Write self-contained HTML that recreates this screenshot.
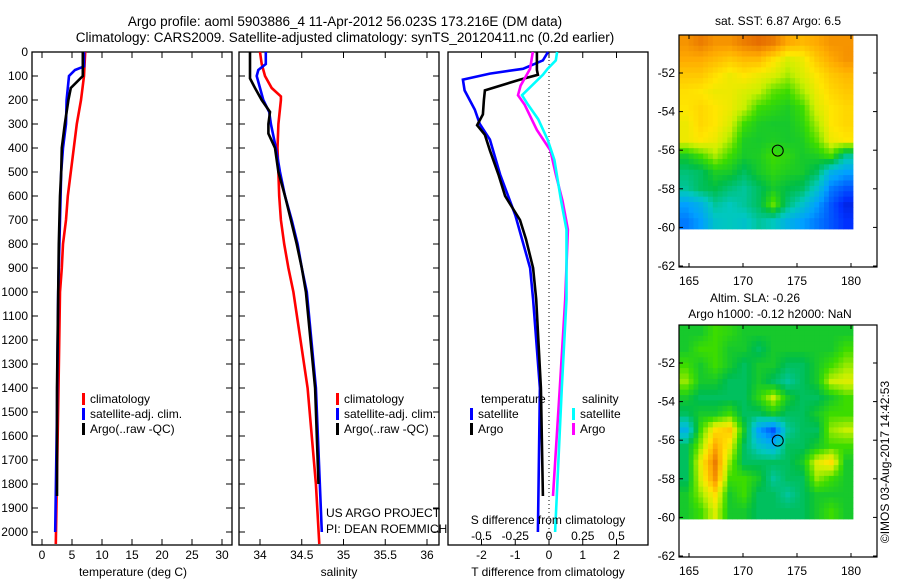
<!DOCTYPE html>
<html><head><meta charset="utf-8"><style>
body{margin:0;background:#fff;}
svg{display:block;font-family:"Liberation Sans",sans-serif;}
</style></head><body>
<svg id="c" width="900" height="580" viewBox="0 0 900 580">
<text x="345" y="26" font-size="13.5" text-anchor="middle">Argo profile: aoml 5903886_4 11-Apr-2012 56.023S 173.216E (DM data)</text>
<text x="345" y="42" font-size="13.5" text-anchor="middle">Climatology: CARS2009. Satellite-adjusted climatology: synTS_20120411.nc (0.2d earlier)</text>
</svg>
<script>
// ---------- DATA ----------
const tempClimDepth=[0,100,200,300,400,500,600,700,800,900,1000,1400,2050];
const tempClim=[7.2,7.0,6.5,5.8,5.3,4.8,4.3,4.0,3.5,3.3,3.0,2.75,2.3];
const tempSatDepth=[0,60,75,100,200,300,400,500,700,1000,1500,2000];
const tempSat=[7.0,7.0,5.5,4.5,4.1,4.0,3.5,3.2,3.0,2.7,2.5,2.2];
const tempArgoDepth=[0,100,150,200,300,400,500,600,700,800,1000,1400,1850];
const tempArgo=[6.8,6.8,4.8,4.4,3.8,3.3,3.2,3.0,2.9,2.8,2.7,2.5,2.5];

const salClimDepth=[0,50,100,150,185,200,300,400,500,600,700,800,900,1000,1400,1800,2050];
const salClim=[34.0,34.02,34.06,34.14,34.25,34.25,34.22,34.21,34.22,34.23,34.25,34.29,34.34,34.4,34.57,34.67,34.71];
const salSatDepth=[0,50,75,100,150,200,250,300,400,500,600,700,800,900,1000,1400,2000];
const salSat=[34.07,34.07,33.98,33.96,34.0,34.04,34.11,34.13,34.19,34.24,34.3,34.38,34.45,34.5,34.56,34.67,34.74];
const salArgoDepth=[0,110,150,200,250,300,340,400,500,600,700,800,900,1000,1400,1800];
const salArgo=[33.88,33.88,33.94,34.02,34.12,34.1,34.1,34.18,34.22,34.3,34.37,34.44,34.5,34.55,34.66,34.7];

const tdSatDepth=[0,35,70,90,115,160,240,300,365,510,680,780,900,1030,1400,1700,2000];
const tdSat=[-0.03,-0.18,-0.77,-1.75,-2.55,-2.5,-2.2,-2.05,-1.75,-1.45,-1.0,-0.8,-0.56,-0.47,-0.27,-0.3,-0.33];
const tdArgoDepth=[0,75,95,115,160,200,260,305,345,410,510,600,700,780,900,1030,1400,1850];
const tdArgo=[-0.36,-0.36,-0.33,-0.86,-1.9,-1.93,-1.96,-2.13,-1.9,-1.75,-1.5,-1.3,-0.86,-0.68,-0.47,-0.38,-0.24,-0.18];
const sdArgoDepth=[0,70,140,180,220,325,410,510,620,740,1030,1400,1850];
const sdArgo=[-0.12,-0.14,-0.21,-0.23,-0.18,-0.09,0.01,0.05,0.10,0.14,0.12,0.08,0.03];
const sdSatDepth=[0,35,70,95,180,220,280,365,450,620,740,1030,1400,2000];
const sdSat=[0.06,0.05,-0.01,-0.045,-0.2,-0.155,-0.08,-0.01,0.04,0.09,0.13,0.13,0.095,0.045];

const depthTicks=[0,100,200,300,400,500,600,700,800,900,1000,1100,1200,1300,1400,1500,1600,1700,1800,1900,2000];
const tempTicks=[0,5,10,15,20,25,30];
const salTicks=[34,34.5,35,35.5,36];
const tdTicks=[-2,-1,0,1,2];
const sdTickLabels=["-0.5","-0.25","0","0.25","0.5"];
const sdTicks=[-0.5,-0.25,0,0.25,0.5];
const lonTicks=[165,170,175,180];
const latTicks=[-52,-54,-56,-58,-60,-62];

const sstGrid=[
[.85,.88,.85,.85,.88,.9,.88,.82,.8,.82,.85,.85],
[.82,.82,.8,.78,.8,.8,.75,.7,.72,.78,.82,.85],
[.78,.78,.75,.72,.74,.72,.7,.66,.7,.74,.78,.8],
[.75,.74,.72,.72,.7,.68,.62,.6,.66,.72,.76,.78],
[.74,.76,.74,.72,.68,.6,.58,.56,.6,.7,.74,.76],
[.72,.76,.74,.7,.6,.56,.55,.55,.58,.66,.74,.76],
[.72,.74,.72,.66,.56,.55,.56,.55,.56,.62,.72,.74],
[.55,.6,.66,.6,.55,.56,.6,.58,.55,.56,.6,.45],
[.48,.5,.56,.55,.5,.55,.58,.56,.55,.5,.35,.3],
[.45,.5,.52,.48,.45,.5,.55,.52,.5,.4,.25,.2],
[.3,.35,.45,.42,.45,.5,.62,.48,.4,.3,.2,.12],
[.25,.3,.4,.42,.4,.45,.42,.35,.3,.25,.2,.15]];
const slaGrid=[
[.55,.55,.6,.58,.55,.55,.55,.55,.55,.55,.55,.55],
[.55,.6,.6,.55,.55,.5,.55,.55,.55,.55,.55,.6],
[.6,.55,.6,.55,.5,.55,.55,.5,.5,.55,.6,.65],
[.65,.55,.55,.5,.5,.55,.5,.45,.5,.55,.68,.7],
[.55,.5,.5,.5,.5,.58,.68,.55,.5,.5,.55,.6],
[.5,.55,.55,.6,.5,.5,.55,.5,.5,.55,.6,.6],
[.35,.6,.75,.78,.55,.3,.2,.45,.5,.5,.65,.68],
[.5,.65,.82,.72,.5,.4,.35,.5,.5,.55,.6,.6],
[.5,.72,.88,.65,.5,.5,.5,.5,.55,.7,.75,.55],
[.5,.7,.85,.6,.6,.55,.45,.5,.5,.65,.6,.55],
[.55,.65,.75,.55,.6,.5,.5,.45,.5,.55,.55,.55],
[.55,.6,.7,.55,.55,.5,.5,.5,.5,.55,.6,.55]];
const argoLon=173.216, argoLat=-56.023;

// ---------- HELPERS ----------
const svg=document.getElementById('c');
const NS='http://www.w3.org/2000/svg';
function mk(tag,attrs,parent){const e=document.createElementNS(NS,tag);for(const k in attrs)e.setAttribute(k,attrs[k]);(parent||svg).appendChild(e);return e;}
function txt(x,y,s,size,anchor,parent){const t=mk('text',{x:x,y:y,'font-size':size,'text-anchor':anchor||'middle'},parent);t.textContent=s;return t;}
const TOP=52,BOT=545;
const yD=d=>TOP+d*0.24;
const xT=v=>42+v*6;
const xS=v=>260+(v-34)*83.5;
const xTD=v=>549+v*33.75;
const xSD=v=>549+v*4*33.75;

function panel(x0,x1,name){
  const g=mk('g',{});
  
  
  mk('rect',{x:x0,y:TOP,width:x1-x0,height:BOT-TOP,fill:'none',stroke:'#000','stroke-width':1.3},g);
  return g;
}
function line(g,ds,vs,fx,color,name){
  const p=mk('polyline',{points:ds.map((d,i)=>fx(vs[i]).toFixed(1)+','+yD(d).toFixed(1)).join(' '),fill:'none',stroke:color,'stroke-width':2.6,'stroke-linejoin':'miter'},g);
  
  
}
function xticks(g,ticks,fx,labels,ly){
  ticks.forEach((t,i)=>{const x=fx(t);
    mk('line',{x1:x,y1:TOP,x2:x,y2:TOP+6,stroke:'#000'},g);
    mk('line',{x1:x,y1:BOT,x2:x,y2:BOT-6,stroke:'#000'},g);
    if(labels){const l=txt(x,ly,labels[i],12,'middle',g);
      
      }
  });
}
function yticks(g,x0,x1){
  depthTicks.forEach(d=>{const y=yD(d);
    mk('line',{x1:x0,y1:y,x2:x0+6,y2:y,stroke:'#000'},g);
    mk('line',{x1:x1,y1:y,x2:x1-6,y2:y,stroke:'#000'},g);});
}
function legend(g,x,y,items){
  items.forEach((it,i)=>{
    mk('rect',{x:x,y:y+i*15-10,width:3,height:12,fill:it[0]},g);
    const t=txt(x+8,y+i*15,it[1],12,'start',g);
    
    
  });
}

// ---------- PANEL 1 ----------
const p1=panel(32,232,'temperature-panel');
yticks(p1,32,232);
depthTicks.forEach(d=>{const t=txt(28,yD(d)+4,String(d),12,'end',p1);
  
  });
xticks(p1,tempTicks,xT,tempTicks.map(String),559);
line(p1,tempClimDepth,tempClim,xT,'#f00','temp-climatology-line');
line(p1,tempSatDepth,tempSat,xT,'#00f','temp-satellite-line');
line(p1,tempArgoDepth,tempArgo,xT,'#000','temp-argo-line');
legend(p1,82,403,[['#f00','climatology'],['#00f','satellite-adj. clim.'],['#000','Argo(..raw -QC)']]);
txt(133,576,'temperature (deg C)',12,'middle',p1);

// ---------- PANEL 2 ----------
const p2=panel(239,439,'salinity-panel');
yticks(p2,239,439);
xticks(p2,salTicks,xS,['34','34.5','35','35.5','36'],559);
line(p2,salClimDepth,salClim,xS,'#f00','sal-climatology-line');
line(p2,salSatDepth,salSat,xS,'#00f','sal-satellite-line');
line(p2,salArgoDepth,salArgo,xS,'#000','sal-argo-line');
legend(p2,336,403,[['#f00','climatology'],['#00f','satellite-adj. clim.'],['#000','Argo(..raw -QC)']]);
txt(326,517,'US ARGO PROJECT',12,'start',p2);
txt(326,533,'PI: DEAN ROEMMICH',12,'start',p2);
txt(339,576,'salinity',12,'middle',p2);

// ---------- PANEL 3 ----------
const p3=panel(448,648,'difference-panel');
xticks(p3,tdTicks,xTD,['-2','-1','0','1','2'],559);
mk('line',{x1:549,y1:TOP,x2:549,y2:BOT,stroke:'#000','stroke-dasharray':'1,3'},p3);
line(p3,tdSatDepth,tdSat,xTD,'#00f','tdiff-satellite-line');
line(p3,tdArgoDepth,tdArgo,xTD,'#000','tdiff-argo-line');
line(p3,sdArgoDepth,sdArgo,xSD,'#f0f','sdiff-argo-line');
line(p3,sdSatDepth,sdSat,xSD,'#0ff','sdiff-satellite-line');
txt(481,403,'temperature',12,'start',p3);
txt(582,403,'salinity',12,'start',p3);
legend(p3,470,418,[['#00f','satellite'],['#000','Argo']]);
legend(p3,572,418,[['#0ff','satellite'],['#f0f','Argo']]);
txt(548,524,'S difference from climatology',12,'middle',p3);
sdTicks.forEach((s,i)=>{const t=txt(xSD(s),540,sdTickLabels[i],12,'middle',p3);
  
  });
txt(548,576,'T difference from climatology',12,'middle',p3);

// ---------- MAPS ----------
const cstops=[[0,[0,0,140]],[.15,[0,48,255]],[.3,[0,160,255]],[.42,[0,200,190]],[.52,[0,190,70]],[.6,[60,220,0]],[.68,[200,240,0]],[.74,[255,230,0]],[.82,[255,170,0]],[.9,[230,110,0]],[1,[190,40,0]]];
function cmap(v){for(let i=1;i<cstops.length;i++){if(v<=cstops[i][0]){const a=cstops[i-1],b=cstops[i],f=(v-a[0])/(b[0]-a[0]);
  return 'rgb('+a[1].map((c,j)=>Math.round(c+(b[1][j]-c)*f)).join(',')+')';}}return 'rgb(190,40,0)';}
function sample(grid,r,c){
  const R=grid.length-1,C=grid[0].length-1;
  r=Math.max(0,Math.min(R,r));c=Math.max(0,Math.min(C,c));
  const r0=Math.floor(r),c0=Math.floor(c),r1=Math.min(R,r0+1),c1=Math.min(C,c0+1),fr=r-r0,fc=c-c0;
  return grid[r0][c0]*(1-fr)*(1-fc)+grid[r0][c1]*(1-fr)*fc+grid[r1][c0]*fr*(1-fc)+grid[r1][c1]*fr*fc;
}
function mapPanel(top,grid,name){
  const g=mk('g',{});
  
  
  const L=679,R=877,B=top+232,xL=v=>689+(v-165)*10.8,yL=v=>top+38+(-52-v)*19.3;
  const imgL=679,imgR=853,imgT=top,imgB=top+194;
  const SUB=3,nr=grid.length*SUB,nc=grid[0].length*SUB;
  const cw=(imgR-imgL)/nc,ch=(imgB-imgT)/nr;
  for(let r=0;r<nr;r++)for(let c=0;c<nc;c++){
    const v=sample(grid,(r+0.5)/SUB-0.5,(c+0.5)/SUB-0.5);
    const cell=mk('rect',{x:(imgL+c*cw).toFixed(2),y:(imgT+r*ch).toFixed(2),width:(cw+0.4).toFixed(2),height:(ch+0.4).toFixed(2),fill:cmap(v)},g);
    
    
  }
  mk('rect',{x:L,y:top,width:R-L,height:B-top,fill:'none',stroke:'#000','stroke-width':1.2},g);
  lonTicks.forEach(v=>{const x=xL(v);mk('line',{x1:x,y1:top,x2:x,y2:top+4,stroke:'#000'},g);mk('line',{x1:x,y1:B,x2:x,y2:B-4,stroke:'#000'},g);
    txt(x,B+18,String(v),12,'middle',g);});
  latTicks.forEach(v=>{const y=yL(v);mk('line',{x1:L,y1:y,x2:L+4,y2:y,stroke:'#000'},g);mk('line',{x1:R,y1:y,x2:R-4,y2:y,stroke:'#000'},g);
    txt(L-4,y+4,String(v),12,'end',g);});
  const m=mk('circle',{cx:xL(argoLon),cy:yL(argoLat),r:5.5,fill:'none',stroke:'#000','stroke-width':1},g);
  
  
}
mapPanel(35,sstGrid,'sst-map');
mapPanel(325,slaGrid,'sla-map');
txt(778,25,'sat. SST: 6.87 Argo: 6.5',12,'middle');
txt(755,302,'Altim. SLA: -0.26',12,'middle');
txt(770,318,'Argo h1000: -0.12 h2000: NaN',12,'middle');
const cr=txt(0,0,'©IMOS 03-Aug-2017 14:42:53',12,'middle');
cr.setAttribute('transform','translate(889,462) rotate(-90)');

</script>
</body></html>
